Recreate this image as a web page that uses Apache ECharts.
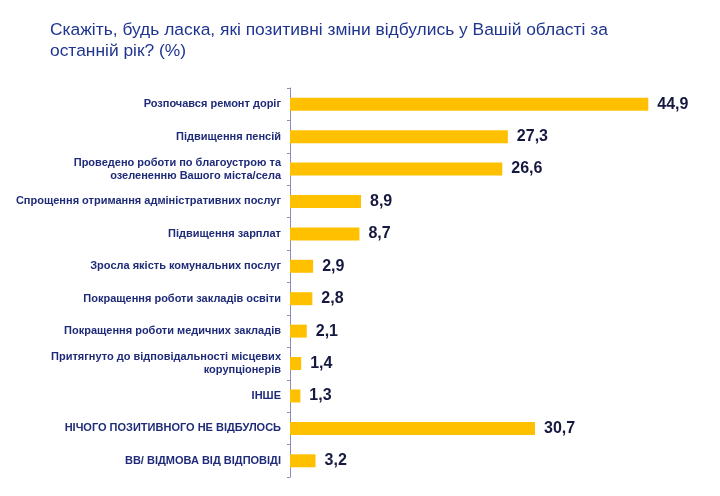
<!DOCTYPE html>
<html>
<head>
<meta charset="utf-8">
<script src="https://cdn.jsdelivr.net/npm/echarts@6/dist/echarts.min.js"></script>
<style>
  html, body { margin: 0; padding: 0; background: #fff; }
  #chart { width: 720px; height: 496px; }
</style>
</head>
<body>
<div id="chart"></div>
<script>
const categories = [
  "Розпочався ремонт доріг",
  "Підвищення пенсій",
  "Проведено роботи по благоустрою та\nозелененню Вашого міста/села",
  "Спрощення отримання адміністративних послуг",
  "Підвищення зарплат",
  "Зросла якість комунальних послуг",
  "Покращення роботи закладів освіти",
  "Покращення роботи медичних закладів",
  "Притягнуто до відповідальності місцевих\nкорупціонерів",
  "ІНШЕ",
  "НІЧОГО ПОЗИТИВНОГО НЕ ВІДБУЛОСЬ",
  "ВВ/ ВІДМОВА ВІД ВІДПОВІДІ"
]
const values = [44.9, 27.3, 26.6, 8.9, 8.7, 2.9, 2.8, 2.1, 1.4, 1.3, 30.7, 3.2]

const chart = echarts.init(document.getElementById("chart"))

const option = {
  backgroundColor: "#ffffff",
  animation: false,
  title: {
    text: "Скажіть, будь ласка, які позитивні зміни відбулись у Вашій області за\nостанній рік? (%)",
    left: 45,
    top: 15,
    textStyle: {
      color: "#1f3590",
      fontFamily: "Liberation Sans, Arial, sans-serif",
      fontSize: 17.4,
      fontWeight: "normal",
      lineHeight: 21,
    },
  },
  grid: {
    left: 290,
    right: 31,
    top: 88,
    bottom: 19,
  },
  xAxis: {
    type: "value",
    min: 0,
    max: 50,
    show: false,
  },
  yAxis: {
    type: "category",
    inverse: true,
    data: categories,
    axisLine: {
      show: true,
      lineStyle: { color: "#8c8cb4", width: 1 },
    },
    axisTick: {
      show: true,
      length: 3,
      lineStyle: { color: "#8c8cb4" },
    },
    axisLabel: {
      color: "#1f2b78",
      fontFamily: "Liberation Sans, Arial, sans-serif",
      fontSize: 11,
      fontWeight: "bold",
      lineHeight: 13,
      margin: 9,
      align: "right",
    },
    splitLine: { show: false },
  },
  series: [
    {
      type: "bar",
      data: values,
      barWidth: 13,
      itemStyle: { color: "#ffc000" },
      label: {
        show: true,
        position: "right",
        distance: 9,
        color: "#16193f",
        fontFamily: "Liberation Sans, Arial, sans-serif",
        fontSize: 16,
        fontWeight: "bold",
        formatter: (p) => String(p.value).replace(".", ","),
      },
    },
  ],
}

chart.setOption(option)
</script>
</body>
</html>
